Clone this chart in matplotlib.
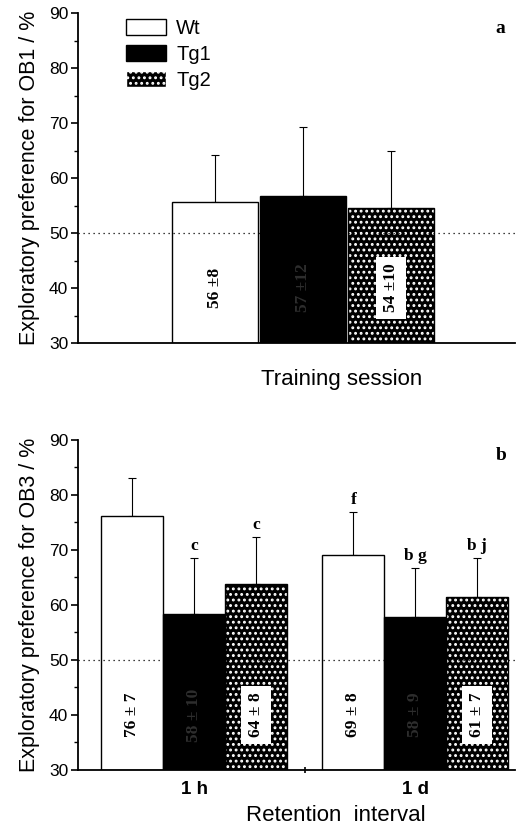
import numpy as np
import matplotlib.pyplot as plt
from matplotlib.patches import Patch
from matplotlib.ticker import MultipleLocator

plt.rcParams['font.family'] = ['Liberation Sans', 'DejaVu Sans']
plt.rcParams['hatch.linewidth'] = 1.3

groups = ["Wt", "Tg1", "Tg2"]

# panel a: training session
train_mean = [55.7, 56.8, 54.6]
train_err = [8.5, 12.5, 10.4]
train_lbl = ["56 ±8", "57 ±12", "54 ±10"]

# panel b: retention interval
intervals = ["1 h", "1 d"]
ret_mean = {"Wt": [76.2, 69.1], "Tg1": [58.4, 57.8], "Tg2": [63.9, 61.4]}
ret_err = {"Wt": [6.8, 7.8], "Tg1": [10.1, 8.9], "Tg2": [8.4, 7.1]}
ret_lbl = {"Wt": ["76 ± 7", "69 ± 8"], "Tg1": ["58 ± 10", "58 ± 9"], "Tg2": ["64 ± 8", "61 ± 7"]}
ret_sig = {"Wt": ["", "f"], "Tg1": ["c", "b g"], "Tg2": ["c", "b j"]}

serif = ['Liberation Serif', 'DejaVu Serif']
lbl_col = {"Wt": "black", "Tg1": "#2e2e2e", "Tg2": "black"}


def draw_bar(ax, x, h, w, g):
    if g == "Wt":
        ax.bar(x, h, w, bottom=30, color="white", edgecolor="black", lw=1, zorder=2)
    elif g == "Tg1":
        ax.bar(x, h, w, bottom=30, color="black", edgecolor="black", lw=1, zorder=2)
    else:
        ax.bar(x, h, w, bottom=30, color="black", edgecolor="white", hatch="...", lw=0, zorder=2)
        ax.bar(x, h, w, bottom=30, fill=False, edgecolor="black", lw=1, zorder=2)


def style_axis(ax, ylabel):
    ax.set_ylim(30, 90)
    ax.yaxis.set_major_locator(MultipleLocator(10))
    ax.yaxis.set_minor_locator(MultipleLocator(5))
    ax.spines['top'].set_visible(False)
    ax.spines['right'].set_visible(False)
    ax.spines['left'].set_linewidth(1.3)
    ax.spines['bottom'].set_linewidth(1.3)
    ax.tick_params(axis='y', which='major', length=5, width=1.2, labelsize=12.5, pad=2)
    ax.tick_params(axis='y', which='minor', length=3, width=1)
    ax.set_ylabel(ylabel, fontsize=15.5, labelpad=6)
    ax.axhline(50, color="black", lw=0.9, ls=(0, (1, 3)), zorder=3)


fig = plt.figure(figsize=(5.23, 8.30), dpi=100)

# Panel a
ax1 = fig.add_axes([0.149, 0.5867, 0.836, 0.3976])
style_axis(ax1, "Exploratory preference for OB1 / %")
xa = np.array([-1, 0, 1])
for i, g in enumerate(groups):
    draw_bar(ax1, xa[i], train_mean[i] - 30, 0.98, g)
    ax1.errorbar(xa[i], train_mean[i], yerr=[[0], [train_err[i]]], fmt="none",
                 ecolor="black", elinewidth=0.8, capsize=3, capthick=0.8, zorder=1)
    box = dict(facecolor="white", edgecolor="none", pad=5) if g == "Tg2" else None
    ax1.text(xa[i], 40, train_lbl[i], rotation=90, ha="center", va="center",
             fontsize=12.5, fontweight="bold", family=serif, color=lbl_col[g],
             bbox=box, zorder=4)
ax1.set_xlim(-2.56, 2.41)
ax1.set_xticks([])
ax1.set_xlabel("Training session", fontsize=16)
ax1.xaxis.set_label_coords(0.604, -0.08)
ax1.text(0.955, 0.94, "a", transform=ax1.transAxes, fontsize=14,
         fontweight="bold", family=serif)
handles = [Patch(facecolor="white", edgecolor="black"),
           Patch(facecolor="black", edgecolor="black"),
           Patch(facecolor="black", edgecolor="white", hatch="...")]
ax1.legend(handles, groups, loc="upper left", bbox_to_anchor=(0.077, 1.025),
           frameon=False, fontsize=14.5, handlelength=2.0, handleheight=0.85,
           labelspacing=0.35, handletextpad=0.5, borderpad=0.2)

# Panel b
ax2 = fig.add_axes([0.149, 0.0723, 0.836, 0.3976])
style_axis(ax2, "Exploratory preference for OB3 / %")
xb = np.arange(len(intervals))
w = 0.28
for i, g in enumerate(groups):
    xs = xb + (i - 1) * w
    for j in range(len(intervals)):
        draw_bar(ax2, xs[j], ret_mean[g][j] - 30, w, g)
        top = ret_mean[g][j] + ret_err[g][j]
        ax2.errorbar(xs[j], ret_mean[g][j], yerr=[[0], [ret_err[g][j]]], fmt="none",
                     ecolor="black", elinewidth=0.8, capsize=3, capthick=0.8, zorder=1)
        box = dict(facecolor="white", edgecolor="none", pad=5) if g == "Tg2" else None
        ax2.text(xs[j], 40, ret_lbl[g][j], rotation=90, ha="center", va="center",
                 fontsize=12.5, fontweight="bold", family=serif, color=lbl_col[g],
                 bbox=box, zorder=4)
        if ret_sig[g][j]:
            ax2.text(xs[j], top + 0.8, ret_sig[g][j], ha="center", va="bottom",
                     fontsize=12.5, fontweight="bold", family=serif)
ax2.set_xlim(-0.525, 1.452)
ax2.set_xticks(xb)
ax2.set_xticklabels(intervals, fontsize=13.5, fontweight="bold")
ax2.tick_params(axis='x', which='major', length=0, pad=8)
ax2.set_xticks([0.5], minor=True)
ax2.tick_params(axis='x', which='minor', length=4, direction='inout', width=1.2)
ax2.set_xlabel("Retention  interval", fontsize=16)
ax2.xaxis.set_label_coords(0.59, -0.105)
ax2.text(0.955, 0.94, "b", transform=ax2.transAxes, fontsize=14,
         fontweight="bold", family=serif)

fig.savefig("out.png", dpi=100)
